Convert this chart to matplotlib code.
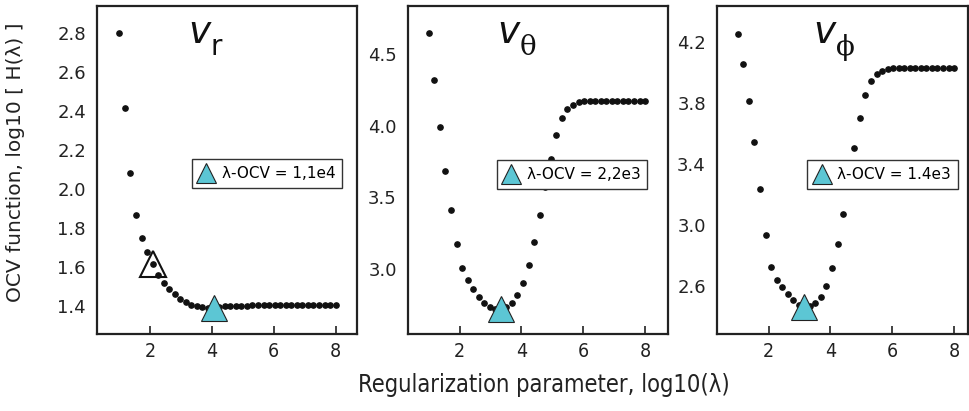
import numpy as np
import matplotlib.pyplot as plt
from matplotlib.lines import Line2D

# log10(lambda) grid, 40 values from 1 to 8
log_lam = [1.00, 1.18, 1.36, 1.54, 1.72, 1.90, 2.08, 2.26, 2.44, 2.62,
           2.79, 2.97, 3.15, 3.33, 3.51, 3.69, 3.87, 4.05, 4.23, 4.41,
           4.59, 4.77, 4.95, 5.13, 5.31, 5.49, 5.67, 5.85, 6.03, 6.21,
           6.38, 6.56, 6.74, 6.92, 7.10, 7.28, 7.46, 7.64, 7.82, 8.00]

# OCV function, log10 H(lambda)
ocv_r = [2.800, 2.417, 2.083, 1.868, 1.752, 1.678, 1.614, 1.559, 1.518, 1.488,
         1.460, 1.437, 1.420, 1.408, 1.399, 1.394, 1.392, 1.390, 1.393, 1.398,
         1.401, 1.402, 1.403, 1.403, 1.404, 1.404, 1.404, 1.404, 1.404, 1.404,
         1.404, 1.404, 1.404, 1.404, 1.404, 1.404, 1.404, 1.404, 1.404, 1.404]
ocv_theta = [4.640, 4.314, 3.993, 3.686, 3.411, 3.178, 3.011, 2.923, 2.864, 2.808,
             2.765, 2.737, 2.728, 2.722, 2.738, 2.767, 2.820, 2.906, 3.030, 3.192,
             3.376, 3.570, 3.767, 3.935, 4.051, 4.116, 4.146, 4.167, 4.172, 4.174,
             4.174, 4.174, 4.174, 4.174, 4.174, 4.174, 4.174, 4.174, 4.174, 4.174]
ocv_phi = [4.255, 4.053, 3.816, 3.542, 3.235, 2.935, 2.726, 2.637, 2.593, 2.549,
           2.507, 2.475, 2.462, 2.470, 2.486, 2.529, 2.600, 2.716, 2.878, 3.071,
           3.290, 3.503, 3.703, 3.854, 3.943, 3.992, 4.009, 4.025, 4.028, 4.029,
           4.029, 4.029, 4.029, 4.029, 4.029, 4.029, 4.029, 4.029, 4.029, 4.029]

subscripts = ['r', 'θ', 'ϕ']
ocv_labels = ['λ-OCV = 1,1e4', 'λ-OCV = 2,2e3', 'λ-OCV = 1.4e3']
corner_idx_r = 6   # open triangle on the V_r curve

yticks = [[1.4, 1.6, 1.8, 2.0, 2.2, 2.4, 2.6, 2.8],
          [3.0, 3.5, 4.0, 4.5],
          [2.6, 3.0, 3.4, 3.8, 4.2]]
xticks = [2, 4, 6, 8]

# layout (figure fractions) and limits
rects = [[0.100, 0.187, 0.268, 0.798],
         [0.4206, 0.187, 0.268, 0.798],
         [0.7392, 0.187, 0.2588, 0.798]]
xlims = [(0.28, 8.69), (0.33, 8.74), (0.33, 8.45)]
ylims = [(1.256, 2.94), (2.55, 4.83), (2.284, 4.435)]
title_x = [0.35, 0.342, 0.382]
leg_pos = [(0.365, 0.534), (0.342, 0.530), (0.359, 0.530)]

cyan = '#5CC6D4'

fig = plt.figure(figsize=(9.7, 4.11), dpi=100)
series = [ocv_r, ocv_theta, ocv_phi]

for i, yv in enumerate(series):
    ax = fig.add_axes(rects[i])
    x = np.array(log_lam)
    y = np.array(yv)
    ax.plot(x, y, 'o', color='#111111', ms=3.8, zorder=2)
    m = np.argmin(y)
    ax.plot(x[m], y[m], '^', ms=19, mfc=cyan, mec='#222222', mew=0.8, zorder=3)
    if i == 0:
        ax.plot(x[corner_idx_r], y[corner_idx_r], '^', ms=19, mfc='none',
                mec='#111111', mew=1.5, zorder=3)

    ax.set_xlim(xlims[i])
    ax.set_ylim(ylims[i])
    ax.set_xticks(xticks)
    ax.set_xticklabels([str(t) for t in xticks], fontsize=14,
                       fontstretch='condensed')
    ax.set_yticks(yticks[i])
    ax.set_yticklabels(['%.1f' % t for t in yticks[i]], fontsize=13)
    ax.tick_params(axis='x', direction='in', length=6, width=1.2, pad=6,
                   colors='#222222')
    ax.tick_params(axis='y', length=0, pad=8, colors='#222222')
    for s in ax.spines.values():
        s.set_linewidth(1.6)
        s.set_color('#222222')

    vt = ax.text(title_x[i], 0.887, 'v', style='italic', fontsize=27,
                 color='#111111', transform=ax.transAxes, ha='left', va='baseline')
    fam = 'DejaVu Sans' if i == 0 else 'DejaVu Serif'
    ax.annotate(subscripts[i], xy=(1, 0), xycoords=vt, xytext=(0.5, -3),
                textcoords='offset points', fontsize=20, family=fam,
                color='#111111', ha='left', va='baseline')

    h = Line2D([], [], ls='none', marker='^', ms=14, mfc=cyan, mec='#222222',
               mew=0.8)
    leg = ax.legend([h], [ocv_labels[i]], loc='upper left',
                    bbox_to_anchor=leg_pos[i], fontsize=11, fancybox=False,
                    framealpha=1, edgecolor='#333333', handlelength=1.0,
                    handletextpad=0.5, borderpad=0.45, borderaxespad=0)
    leg.get_frame().set_linewidth(1.0)

fig.text(0.016, 0.606, 'OCV function, log10 [ H(λ) ]', rotation=90,
         ha='center', va='center', fontsize=14.5, color='#222222')
fig.text(0.561, 0.063, 'Regularization parameter, log10(λ)', ha='center',
         va='center', fontsize=17, fontstretch='condensed', color='#222222')

fig.savefig('out.png', dpi=100)
